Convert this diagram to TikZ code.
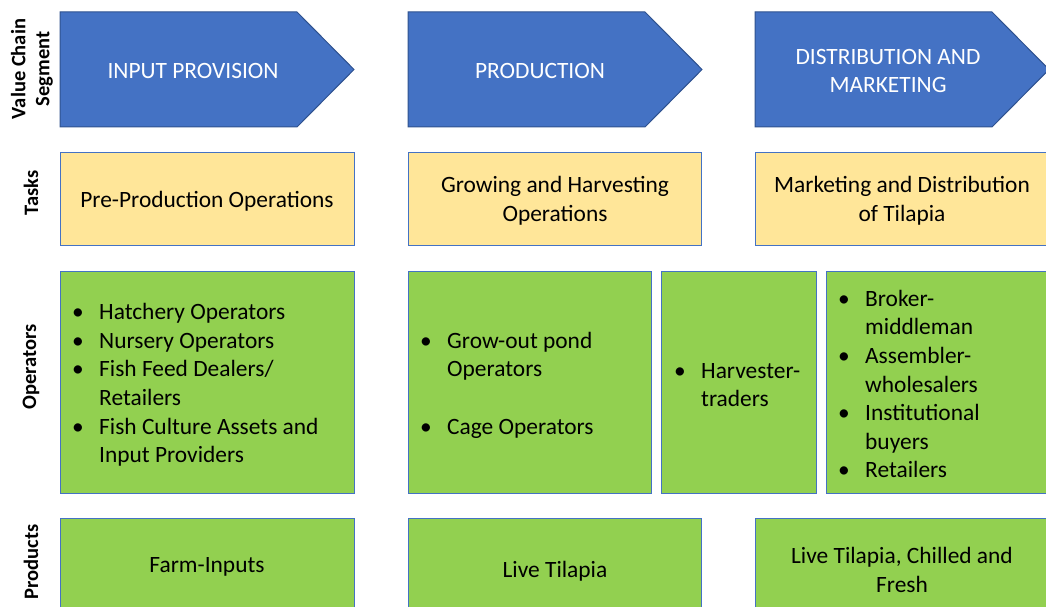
\documentclass[tikz,border=0pt]{standalone}
\usepackage{fontspec}
\setmainfont{Carlito}
\definecolor{segblue}{HTML}{4472C4}
\definecolor{segedge}{HTML}{2F528F}
\definecolor{taskyellow}{HTML}{FFE699}
\definecolor{opgreen}{HTML}{92D050}
\definecolor{boxedge}{HTML}{4472C4}
\newcommand{\bul}{\makebox[27pt][l]{\textbullet}}
\newcommand{\cont}{\hspace*{27pt}}
\begin{document}
\begin{tikzpicture}[x=1pt,y=-1pt,
  every node/.style={font=\fontsize{23.4}{28.6}\selectfont, inner sep=0pt},
  seg/.style={fill=segblue, draw=segedge, line width=1pt},
  segtext/.style={text=white, align=center},
  taskbox/.style={fill=taskyellow, draw=boxedge, line width=0.9pt, anchor=north west},
  greenbox/.style={fill=opgreen, draw=boxedge, line width=0.9pt, anchor=north west},
  bodytext/.style={align=center},
  listtext/.style={align=left, anchor=west},
  rowlabel/.style={rotate=90, align=center, font=\fontsize{20.5}{24}\selectfont\bfseries}]
\clip (0,0) rectangle (1046,607);

% row labels
\node[rowlabel] (lseg) at (32,69) {Value Chain\\Segment};
\node[rowlabel] (ltask) at (31,193) {Tasks};
\node[rowlabel] (lop) at (31,367) {Operators};
\node[rowlabel] (lprod) at (31,562) {Products};

% value chain segments
\draw[seg] (60,12) -- (297,12) -- (354,69.5) -- (297,127) -- (60,127) -- cycle;
\draw[seg] (408,12) -- (645,12) -- (702,69.5) -- (645,127) -- (408,127) -- cycle;
\draw[seg] (755,12) -- (992,12) -- (1049,69.5) -- (992,127) -- (755,127) -- cycle;
\node[segtext] (s1) at (193,71) {INPUT PROVISION};
\node[segtext] (s2) at (540,71) {PRODUCTION};
\node[segtext] (s3) at (888,71) {DISTRIBUTION AND\\MARKETING};

% tasks
\node[taskbox, minimum width=294pt, minimum height=93pt] (t1) at (60,152) {};
\node[taskbox, minimum width=293pt, minimum height=93pt] (t2) at (408,152) {};
\node[taskbox, minimum width=294pt, minimum height=93pt] (t3) at (755,152) {};
\node[bodytext] (t1x) at (207,201) {Pre-Production Operations};
\node[bodytext] (t2x) at (555,201) {Growing and Harvesting\\Operations};
\node[bodytext] (t3x) at (902,201) {Marketing and Distribution\\of Tilapia};

% operators
\node[greenbox, minimum width=294pt, minimum height=222pt] (o1) at (60,271) {};
\node[greenbox, minimum width=243pt, minimum height=222pt] (o2) at (408,271) {};
\node[greenbox, minimum width=155pt, minimum height=222pt] (o3) at (661,271) {};
\node[greenbox, minimum width=240pt, minimum height=222pt] (o4) at (826,271) {};
\node[listtext] (o1x) at (72,385) {\bul Hatchery Operators\\
  \bul Nursery Operators\\
  \bul Fish Feed Dealers/\\
  \cont Retailers\\
  \bul Fish Culture Assets and\\
  \cont Input Providers};
\node[listtext] (o2x) at (420,385) {\bul Grow-out pond\\
  \cont Operators\\
  \mbox{}\\
  \bul Cage Operators};
\node[listtext] (o3x) at (674,385) {\bul Harvester-\\
  \cont traders};
\node[listtext] (o4x) at (838,384) {\bul Broker-\\
  \cont middleman\\
  \bul Assembler-\\
  \cont wholesalers\\
  \bul Institutional\\
  \cont buyers\\
  \bul Retailers};

% products
\node[greenbox, minimum width=294pt, minimum height=94pt] (p1) at (60,518) {};
\node[greenbox, minimum width=293pt, minimum height=94pt] (p2) at (408,518) {};
\node[greenbox, minimum width=294pt, minimum height=94pt] (p3) at (755,518) {};
\node[bodytext] (p1x) at (207,567) {Farm-Inputs};
\node[bodytext] (p2x) at (555,571) {Live Tilapia};
\node[bodytext] (p3x) at (902,570) {Live Tilapia, Chilled and\\Fresh};
\end{tikzpicture}
\end{document}
